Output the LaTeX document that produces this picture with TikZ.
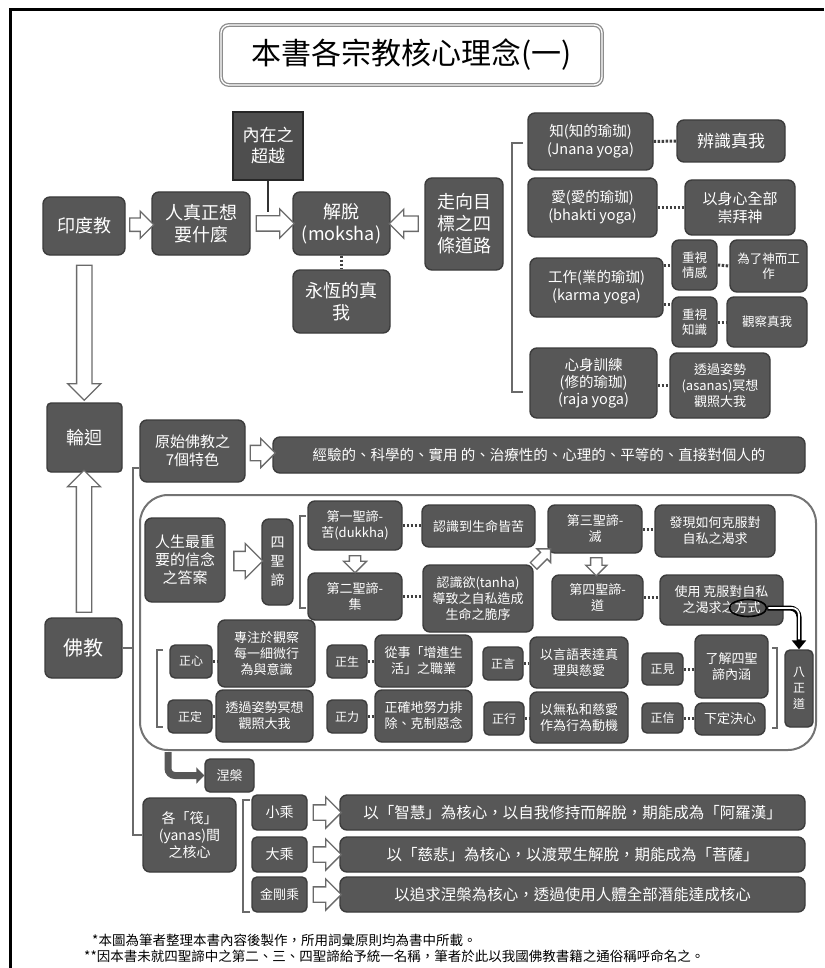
\documentclass[tikz,border=0pt]{standalone}
\usepackage{fontspec}
\setmainfont{Noto Sans CJK TC}
\usetikzlibrary{shapes.arrows,shapes.geometric,calc,arrows.meta}
\definecolor{boxfill}{HTML}{575757}
\definecolor{boxline}{HTML}{3C3C3C}
\definecolor{arrline}{HTML}{6A6A6A}
\definecolor{brkcol}{HTML}{6A6A6A}
\newcommand\fz[2]{\fontsize{#1}{#2}\selectfont}
\begin{document}
\begin{tikzpicture}[x=1pt,y=-1pt,
 box/.style={draw=boxline, fill=boxfill, line width=1.4pt, rounded corners=7pt, text=white, align=center, inner sep=1pt},
 sqbox/.style={box, rounded corners=0pt, draw=black!85, line width=2.2pt, fill=boxfill!90!black},
 barrow/.style={single arrow, draw=arrline, fill=white, line width=1.3pt, single arrow head indent=0pt},
 dots/.style={draw=black!75, line width=3pt, dash pattern=on 2.5pt off 1.5pt},
 brk/.style={draw=brkcol, line width=1.6pt},
 plain/.style={draw=black!80, line width=1.8pt}
]
\useasboundingbox (0,0) rectangle (824,968);
\draw[line width=3pt] (10,968) -- (10,10) -- (824,10);

% title
\node[draw=black!45, line width=1.3pt, double=white, double distance=1.3pt, rounded corners=8pt, fill=white, minimum width=381pt, minimum height=60pt, font=\fz{30}{34}] (title) at (411.5,55) {本書各宗教核心理念(一)};

% ---------- Hinduism ----------
\node[sqbox, minimum width=70pt, minimum height=68pt, font=\fz{17}{21}] (inner) at (268,146) {內在之\\超越};
\node[box, minimum width=82pt, minimum height=58pt, font=\fz{18}{22}] (hindu) at (84,226) {印度教};
\node[box, minimum width=98pt, minimum height=63pt, font=\fz{18}{22}] (want) at (201,223.5) {人真正想\\要什麼};
\node[box, minimum width=97pt, minimum height=63pt, font=\fz{18}{22}] (moksha) at (341.5,223.5) {解脫\\(moksha)};
\node[box, minimum width=97pt, minimum height=63pt, font=\fz{18}{22}] (eternal) at (341.5,301.5) {永恆的真\\我};
\node[box, minimum width=78pt, minimum height=92pt, font=\fz{18}{22}] (fourways) at (464,224) {走向目\\標之四\\條道路};

\node[box, minimum width=125pt, minimum height=57pt, font=\fz{14.5}{18}] (jnana) at (590.5,141.5) {知(知的瑜珈)\\(Jnana yoga)};
\node[box, minimum width=108pt, minimum height=42pt, font=\fz{17}{20}] (discern) at (731,141) {辨識真我};
\node[box, minimum width=129pt, minimum height=59pt, font=\fz{14.5}{18}] (bhakti) at (592.5,207.5) {愛(愛的瑜珈)\\(bhakti yoga)};
\node[box, minimum width=110pt, minimum height=55pt, font=\fz{15}{18}] (worship) at (740,207.5) {以身心全部\\崇拜神};
\node[box, minimum width=133pt, minimum height=59pt, font=\fz{14.5}{18}] (karma) at (596.5,287.5) {工作(業的瑜珈)\\(karma yoga)};
\node[box, minimum width=45pt, minimum height=50pt, font=\fz{12.5}{15}] (emo) at (694.5,265) {重視\\情感};
\node[box, minimum width=77pt, minimum height=52pt, font=\fz{12.5}{15}] (forgod) at (768.5,266) {為了神而工\\作};
\node[box, minimum width=45pt, minimum height=50pt, font=\fz{12.5}{15}] (know) at (694.5,322) {重視\\知識};
\node[box, minimum width=80pt, minimum height=50pt, font=\fz{12.5}{15}] (observe) at (767,322) {觀察真我};
\node[box, minimum width=127pt, minimum height=70pt, font=\fz{14.5}{17}] (raja) at (593.5,383) {心身訓練\\(修的瑜珈)\\(raja yoga)};
\node[box, minimum width=100pt, minimum height=65pt, font=\fz{13}{16}] (asanas) at (720,385.5) {透過姿勢\\(asanas)冥想\\觀照大我};

\draw[brk] (523,143) -- (512,143) -- (512,392) -- (523,392);

\node[barrow, minimum height=24pt, inner sep=6pt, single arrow head extend=7pt] (a1) at ($(hindu.east)!0.5!(want.west)$) {};
\node[barrow, minimum height=38pt, inner sep=7pt, single arrow head extend=7pt] (a2) at ($(want.east)!0.5!(moksha.west)$) {};
\node[barrow, minimum height=29pt, inner sep=7pt, single arrow head extend=7pt, rotate=180] (a3) at ($(fourways.west)!0.5!(moksha.east)$) {};
\draw[plain] (inner.south) -- ++(0,31);
\draw[dots] (moksha.south) -- (eternal.north);
\draw[dots] (jnana.east) -- (discern.west);
\draw[dots] (bhakti.east) -- (worship.west);
\draw[dots] (karma.east |- emo.west) -- (emo.west);
\draw[dots] ($(karma.east)+(0,17)$) -- ($(know.west)+(0,-17.5)$);
\draw[dots] (emo.east) -- (forgod.west);
\draw[dots] (know.east) -- (observe.west);
\draw[dots] (raja.east |- asanas.west) -- (asanas.west);

% ---------- samsara ----------
\node[box, rounded corners=4pt, minimum width=75pt, minimum height=69pt, font=\fz{18}{22}] (samsara) at (84.5,437.5) {輪迴};
\node[box, minimum width=77pt, minimum height=60pt, font=\fz{20}{24}] (buddhism) at (83.5,648) {佛教};
\node[barrow, minimum height=135pt, inner sep=7pt, single arrow head extend=9pt, rotate=-90] (a4) at ($(hindu.south)!0.5!(samsara.north)$) {};
\node[barrow, minimum height=142pt, inner sep=7pt, single arrow head extend=9pt, rotate=90] (a5) at ($(buddhism.north)!0.5!(samsara.south)$) {};

% ---------- Buddhism ----------
\node[box, minimum width=105pt, minimum height=62pt, font=\fz{15}{18}] (early) at (192.5,451) {原始佛教之\\7個特色};
\node[box, minimum width=532pt, minimum height=36pt, font=\fz{14.5}{17}] (seven) at (539,455) {經驗的、科學的、實用 的、治療性的、心理的、平等的、直接對個人的};
\node[barrow, minimum height=25pt, inner sep=7pt, single arrow head extend=7pt] (a6) at ($(early.east)!0.5!(seven.west)$) {};

\coordinate (spinetop) at (133,468);
\node[box, minimum width=93pt, minimum height=74pt, font=\fz{14}{17}] (yanas) at (189.5,835) {各「筏」\\(yanas)間\\之核心};
\draw[brk] (early.west |- spinetop) -- (spinetop) -- (spinetop |- yanas.west) -- (yanas.west);
\draw[brk] (buddhism.east) -- (buddhism.east -| spinetop);

\node[draw=black!55, line width=2pt, rounded corners=28pt, minimum width=676pt, minimum height=255pt, inner sep=0pt] (cont) at (478,622.5) {};

\node[box, minimum width=80pt, minimum height=84pt, font=\fz{15}{18}] (answer) at (185,560) {人生最重\\要的信念\\之答案};
\node[box, minimum width=31pt, minimum height=86pt, font=\fz{14}{19}] (four) at (277.5,562) {四\\聖\\諦};
\node[barrow, minimum height=28pt, inner sep=9pt, single arrow head extend=8pt] (a7) at ($(answer.east)!0.5!(four.west)$) {};
\draw[brk] (306,516) -- (300,516) -- (300,608) -- (306,608);

\node[box, minimum width=94pt, minimum height=49pt, font=\fz{13}{16}] (t1) at (355,525.5) {第一聖諦-\\苦(dukkha)};
\node[box, minimum width=94pt, minimum height=47pt, font=\fz{13}{16}] (t2) at (355,596.5) {第二聖諦-\\集};
\node[box, minimum width=113pt, minimum height=42pt, font=\fz{13}{16}] (r1) at (478.5,526) {認識到生命皆苦};
\node[box, minimum width=110pt, minimum height=67pt, font=\fz{13}{16}] (r2) at (478,598.5) {認識欲(tanha)\\導致之自私造成\\生命之脆序};
\node[box, minimum width=94pt, minimum height=48pt, font=\fz{13}{16}] (t3) at (595,529) {第三聖諦-\\滅};
\node[box, minimum width=120pt, minimum height=52pt, font=\fz{13}{16}] (r3) at (715,531) {發現如何克服對\\自私之渴求};
\node[box, minimum width=91pt, minimum height=45pt, font=\fz{13}{16}] (t4) at (597.5,597.5) {第四聖諦-\\道};
\node[box, minimum width=123pt, minimum height=50pt, font=\fz{13}{16}] (r4) at (721.5,600) {使用 克服對自私\\之渴求之方式};
\node[barrow, minimum height=17pt, inner sep=5pt, single arrow head extend=6pt, rotate=-90] (a8) at ($(t1.south)!0.5!(t2.north)$) {};
\node[barrow, minimum height=18pt, inner sep=5pt, single arrow head extend=5pt, rotate=-90] (a10) at ($(t3.south)!0.5!(t4.north)$) {};
\node[barrow, minimum height=24pt, inner sep=4pt, single arrow head extend=5pt, rotate=45] (a9) at ($(r2.north east)!0.5!(t3.south west)$) {};
\draw[dots] (t1.east) -- (t1.east -| r1.west);
\draw[dots] (t2.east) -- (t2.east -| r2.west);
\draw[dots] (t3.east) -- (t3.east -| r3.west);
\draw[dots] (t4.east) -- (t4.east -| r4.west);

% eightfold path
\node[box, rounded corners=5pt, minimum width=42pt, minimum height=33pt, font=\fz{12}{14}] (zx) at (191,661.5) {正心};
\node[box, minimum width=97pt, minimum height=67pt, font=\fz{13}{16}] (zxd) at (266.5,653.5) {專注於觀察\\每一細微行\\為與意識};
\node[box, rounded corners=5pt, minimum width=44pt, minimum height=33pt, font=\fz{12}{14}] (zd) at (190,716.5) {正定};
\node[box, minimum width=97pt, minimum height=52pt, font=\fz{13}{16}] (zdd) at (264.5,716) {透過姿勢冥想\\觀照大我};
\node[box, rounded corners=5pt, minimum width=40pt, minimum height=33pt, font=\fz{12}{14}] (zs) at (347,661.5) {正生};
\node[box, minimum width=97pt, minimum height=52pt, font=\fz{13}{16}] (zsd) at (423.5,661) {從事「增進生\\活」之職業};
\node[box, rounded corners=5pt, minimum width=40pt, minimum height=33pt, font=\fz{12}{14}] (zl) at (347,716.5) {正力};
\node[box, minimum width=97pt, minimum height=52pt, font=\fz{13}{16}] (zld) at (423.5,716) {正確地努力排\\除、克制惡念};
\node[box, rounded corners=5pt, minimum width=40pt, minimum height=33pt, font=\fz{12}{14}] (zy) at (503,663.5) {正言};
\node[box, minimum width=98pt, minimum height=51pt, font=\fz{13}{16}] (zyd) at (579,662.5) {以言語表達真\\理與慈愛};
\node[box, rounded corners=5pt, minimum width=40pt, minimum height=33pt, font=\fz{12}{14}] (zh) at (504,718.5) {正行};
\node[box, minimum width=98pt, minimum height=51pt, font=\fz{13}{16}] (zhd) at (579,717.5) {以無私和慈愛\\作為行為動機};
\node[box, rounded corners=5pt, minimum width=41pt, minimum height=32pt, font=\fz{12}{14}] (zj) at (662.5,669) {正見};
\node[box, minimum width=73pt, minimum height=63pt, font=\fz{13}{16}] (zjd) at (731.5,666.5) {了解四聖\\諦內涵};
\node[box, rounded corners=5pt, minimum width=41pt, minimum height=30pt, font=\fz{12}{14}] (zxn) at (662.5,718) {正信};
\node[box, minimum width=70pt, minimum height=32pt, font=\fz{13}{16}] (zxnd) at (730,719) {下定決心};
\node[box, rounded corners=5pt, minimum width=28pt, minimum height=77pt, font=\fz{12}{16}] (eight) at (799,688.5) {八\\正\\道};
\draw[brk] (163,650) -- (157,650) -- (157,727) -- (163,727);
\draw[brk] (772,648) -- (777,648) -- (777,728) -- (772,728);
\foreach \a/\b in {zx/zxd,zd/zdd,zs/zsd,zl/zld,zy/zyd,zh/zhd,zj/zjd,zxn/zxnd}
  \draw[dots] (\a.east) -- (\a.east -| \b.west);

\node[draw=black, line width=1.6pt, ellipse, minimum width=37pt, minimum height=17pt, inner sep=0pt] (ell) at (748,608) {};
\draw[line width=5pt, rounded corners=9pt, -{Triangle[length=9pt, width=14pt]}] (ell.east) -| (eight.north);
\draw[line width=1.8pt, white, rounded corners=7pt, shorten >=10pt, shorten <=1pt] (ell.east) -| (eight.north);

% nirvana
\node[box, rounded corners=5pt, minimum width=49pt, minimum height=33pt, font=\fz{13}{16}] (nirvana) at (229.5,775.5) {涅槃};
\coordinate (nstart) at (168,752);
\draw[draw=boxfill, line width=7pt, rounded corners=7pt, -{Triangle[length=8pt,width=16pt]}] (nstart) |- (nirvana.west);

% yanas
\draw[brk] (250,800) -- (243,800) -- (243,912) -- (250,912);
\node[box, rounded corners=5pt, minimum width=55pt, minimum height=35pt, font=\fz{14}{17}] (small) at (279.5,812.5) {小乘};
\node[box, rounded corners=5pt, minimum width=55pt, minimum height=35pt, font=\fz{14}{17}] (great) at (279.5,854.5) {大乘};
\node[box, rounded corners=5pt, minimum width=55pt, minimum height=35pt, font=\fz{13}{16}] (vajra) at (279.5,894.5) {金剛乘};
\node[box, minimum width=465pt, minimum height=35pt, font=\fz{15.5}{18}] (smallt) at (572.5,812.5) {以「智慧」為核心，以自我修持而解脫，期能成為「阿羅漢」};
\node[box, minimum width=465pt, minimum height=35pt, font=\fz{15.5}{18}] (greatt) at (572.5,854.5) {以「慈悲」為核心，以渡眾生解脫，期能成為「菩薩」};
\node[box, minimum width=465pt, minimum height=35pt, font=\fz{15.5}{18}] (vajrat) at (572.5,894.5) {以追求涅槃為核心，透過使用人體全部潛能達成核心};
\foreach \a/\b in {small/smallt,great/greatt,vajra/vajrat}
  \node[barrow, minimum height=28pt, inner sep=7pt, single arrow head extend=8pt] (ar\a) at ($(\a.east)!0.5!(\b.west)$) {};

% footnotes
\node[anchor=west, inner sep=0pt, font=\fz{13.5}{16}] (fn1) at (92,940) {*本圖為筆者整理本書內容後製作，所用詞彙原則均為書中所載。};
\node[anchor=west, inner sep=0pt, font=\fz{13.5}{16}] (fn2) at (84,956) {**因本書未就四聖諦中之第二、三、四聖諦給予統一名稱，筆者於此以我國佛教書籍之通俗稱呼命名之。};
\end{tikzpicture}
\end{document}
